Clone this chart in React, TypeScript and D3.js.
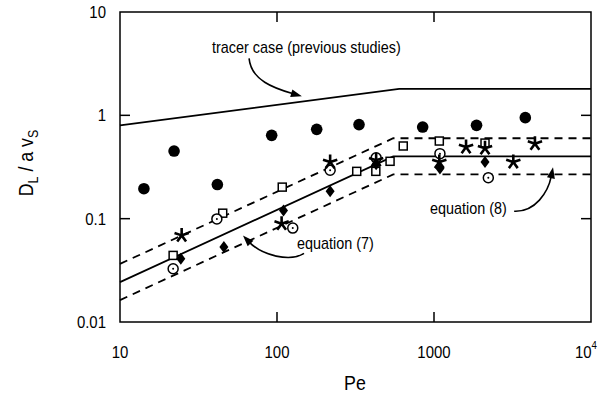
import React from "react";
import * as d3 from "d3";

// ---- data ----
const xTicks = [10, 100, 1000, 10000];
const yTicks = [0.01, 0.1, 1, 10];
const yTickLabels = ["0.01", "0.1", "1", "10"];

// model lines [Pe, D_L/a v_s]
const tracerLine: [number, number][] = [[10, 0.8], [600, 1.8], [10000, 1.8]];
const eq7Line: [number, number][] = [[10, 0.0243], [550, 0.4], [10000, 0.4]];
const upperLine: [number, number][] = [[10, 0.0365], [550, 0.6], [10000, 0.6]];
const lowerLine: [number, number][] = [[10, 0.0163], [550, 0.268], [10000, 0.268]];

const filledCircles: [number, number][] = [
  [14.2, 0.195], [22.1, 0.451], [41.7, 0.214], [92.5, 0.64], [179, 0.732],
  [333, 0.813], [847, 0.77], [1866, 0.8], [3816, 0.95],
];
const squares: [number, number][] = [
  [21.8, 0.0441], [45.1, 0.113], [108, 0.202], [322, 0.287], [426, 0.287],
  [525, 0.359], [637, 0.505], [1081, 0.564], [2113, 0.539],
];
const dotCircles: [number, number][] = [
  [21.8, 0.0328], [41.4, 0.0995], [126, 0.0811], [218, 0.294], [428, 0.388],
  [1091, 0.426], [2218, 0.249],
];
const diamonds: [number, number][] = [
  [24.4, 0.041], [45.9, 0.0533], [110, 0.12], [218, 0.184], [428, 0.336],
  [1091, 0.305], [2113, 0.353],
];
const stars: [number, number][] = [
  [24.7, 0.0689], [107, 0.0895], [218, 0.353], [428, 0.367], [1081, 0.353],
  [1600, 0.493], [2113, 0.48], [3200, 0.353], [4395, 0.532],
];

const W = 609, H = 401;
const M = { left: 120, right: 591, top: 12, bottom: 322 };
const FONT = "'Liberation Sans', Arial, Helvetica, sans-serif";

function T(props: {
  x: number; y: number; size: number; sx?: number; anchor?: string; rotate?: number; children: React.ReactNode;
}) {
  const { x, y, size, sx = 0.88, anchor = "start", rotate = 0, children } = props;
  return (
    <text transform={`translate(${x},${y}) rotate(${rotate}) scale(${sx},1)`} textAnchor={anchor as any}
      fontSize={size}>{children}</text>
  );
}

export default function App() {
  const x = d3.scaleLog().domain([10, 10000]).range([M.left, M.right]);
  const y = d3.scaleLog().domain([0.01, 10]).range([M.bottom, M.top]);
  const line = d3.line<[number, number]>().x(d => x(d[0])).y(d => y(d[1]));

  const starPath = (r: number) => {
    let p = "";
    for (let k = 0; k < 5; k++) {
      const a = (-90 + 72 * k) * Math.PI / 180;
      p += `M0,0L${(r * Math.cos(a)).toFixed(2)},${(r * Math.sin(a)).toFixed(2)}`;
    }
    return p;
  };

  const arrow = (
    p0: [number, number], c1: [number, number], c2: [number, number], p1: [number, number]
  ) => {
    const ang = Math.atan2(p1[1] - c2[1], p1[0] - c2[0]);
    const L = 11, Wd = 4;
    const bx = p1[0] - L * Math.cos(ang), by = p1[1] - L * Math.sin(ang);
    const nx = -Math.sin(ang) * Wd, ny = Math.cos(ang) * Wd;
    const ex = p1[0] - (L - 2) * Math.cos(ang), ey = p1[1] - (L - 2) * Math.sin(ang);
    return (
      <g>
        <path d={`M${p0[0]},${p0[1]}C${c1[0]},${c1[1]} ${c2[0]},${c2[1]} ${ex},${ey}`}
          fill="none" stroke="#000" strokeWidth={1.6} />
        <path d={`M${p1[0]},${p1[1]}L${bx + nx},${by + ny}L${bx - nx},${by - ny}Z`} fill="#000" />
      </g>
    );
  };

  // annotation anchors in data space
  const tA = [x(66.4), y(3.56)] as [number, number];
  const tB = [x(144), y(1.53)] as [number, number];
  const e7A = [x(148.6), y(0.0461)] as [number, number];
  const e7B = [x(60.7), y(0.0686)] as [number, number];
  const e8A = [x(3240), y(0.118)] as [number, number];
  const e8B = [x(5730), y(0.314)] as [number, number];

  const tickLen = 10;

  return (
    <svg width={W} height={H} style={{ position: "absolute", left: 0, top: 0, background: "#fff" }}
      fontFamily={FONT}>
      <rect x={0} y={0} width={W} height={H} fill="#fff" />
      {/* frame */}
      <rect x={M.left} y={M.top} width={M.right - M.left} height={M.bottom - M.top}
        fill="none" stroke="#000" strokeWidth={1.5} />
      {/* ticks */}
      {xTicks.slice(1, -1).map(t => (
        <g key={"xt" + t}>
          <line x1={x(t)} x2={x(t)} y1={M.bottom} y2={M.bottom - tickLen} stroke="#000" strokeWidth={1.5} />
          <line x1={x(t)} x2={x(t)} y1={M.top} y2={M.top + tickLen} stroke="#000" strokeWidth={1.5} />
        </g>
      ))}
      {yTicks.slice(1, -1).map(t => (
        <g key={"yt" + t}>
          <line x1={M.left} x2={M.left + tickLen} y1={y(t)} y2={y(t)} stroke="#000" strokeWidth={1.5} />
          <line x1={M.right} x2={M.right - tickLen} y1={y(t)} y2={y(t)} stroke="#000" strokeWidth={1.5} />
        </g>
      ))}
      {/* tick labels */}
      {xTicks.map((t, i) => i < xTicks.length - 1 ? (
        <T key={"xl" + t} x={x(t)} y={358} size={17} anchor="middle">{String(t)}</T>
      ) : (
        <T key={"xl" + t} x={x(t) - 5} y={358} size={17} anchor="middle">
          10<tspan fontSize={11} dy={-9}>4</tspan>
        </T>
      ))}
      {yTicks.map((t, i) => (
        <T key={"yl" + t} x={106} y={y(t) + 6} size={17} anchor="end">{yTickLabels[i]}</T>
      ))}
      {/* axis titles */}
      <T x={355} y={390} size={20} sx={0.89} anchor="middle">Pe</T>
      <T x={33} y={163} size={20} sx={0.89} rotate={-90} anchor="middle">
        D<tspan fontSize={14} dy={5}>L</tspan><tspan dy={-5}> / a v</tspan><tspan fontSize={14} dy={5}>S</tspan>
      </T>

      {/* model lines */}
      <path d={line(tracerLine) || ""} fill="none" stroke="#000" strokeWidth={1.8} />
      <path d={line(eq7Line) || ""} fill="none" stroke="#000" strokeWidth={1.8} />
      <path d={line(upperLine) || ""} fill="none" stroke="#000" strokeWidth={1.8} strokeDasharray="8,6" />
      <path d={line(lowerLine) || ""} fill="none" stroke="#000" strokeWidth={1.8} strokeDasharray="8,6" />

      {/* markers */}
      {filledCircles.map((d, i) => (
        <circle key={"fc" + i} cx={x(d[0])} cy={y(d[1])} r={5.8} fill="#000" />
      ))}
      {squares.map((d, i) => (
        <rect key={"sq" + i} x={x(d[0]) - 4} y={y(d[1]) - 4} width={8} height={8}
          fill="#fff" stroke="#000" strokeWidth={1.5} />
      ))}
      {dotCircles.map((d, i) => (
        <g key={"dc" + i}>
          <circle cx={x(d[0])} cy={y(d[1])} r={5} fill="#fff" stroke="#000" strokeWidth={1.5} />
          <circle cx={x(d[0])} cy={y(d[1])} r={1} fill="#000" />
        </g>
      ))}
      {diamonds.map((d, i) => (
        <path key={"dm" + i} transform={`translate(${x(d[0])},${y(d[1])})`}
          d="M0,-6L4.5,0L0,6L-4.5,0Z" fill="#000" />
      ))}
      {stars.map((d, i) => (
        <path key={"st" + i} transform={`translate(${x(d[0])},${y(d[1])})`}
          d={starPath(7.5)} fill="none" stroke="#000" strokeWidth={2.6} strokeLinecap="butt" />
      ))}

      {/* annotations */}
      <T x={x(38.5)} y={y(4.0)} size={16} sx={0.9}>tracer case (previous studies)</T>
      {arrow(tA, [tA[0] + 2, tA[1] + 22], [tA[0] + 25, tA[1] + 30], tB)}
      <T x={x(134)} y={y(0.0505)} size={16} sx={0.9}>equation (7)</T>
      {arrow(e7A, [e7A[0] - 14, e7A[1] + 9], [e7A[0] - 42, e7A[1] + 2], e7B)}
      <T x={x(944)} y={y(0.11)} size={16} sx={0.9}>equation (8)</T>
      {arrow(e8A, [e8A[0] + 21, e8A[1] + 1], [e8A[0] + 34, e8A[1] - 19], e8B)}
    </svg>
  );
}
